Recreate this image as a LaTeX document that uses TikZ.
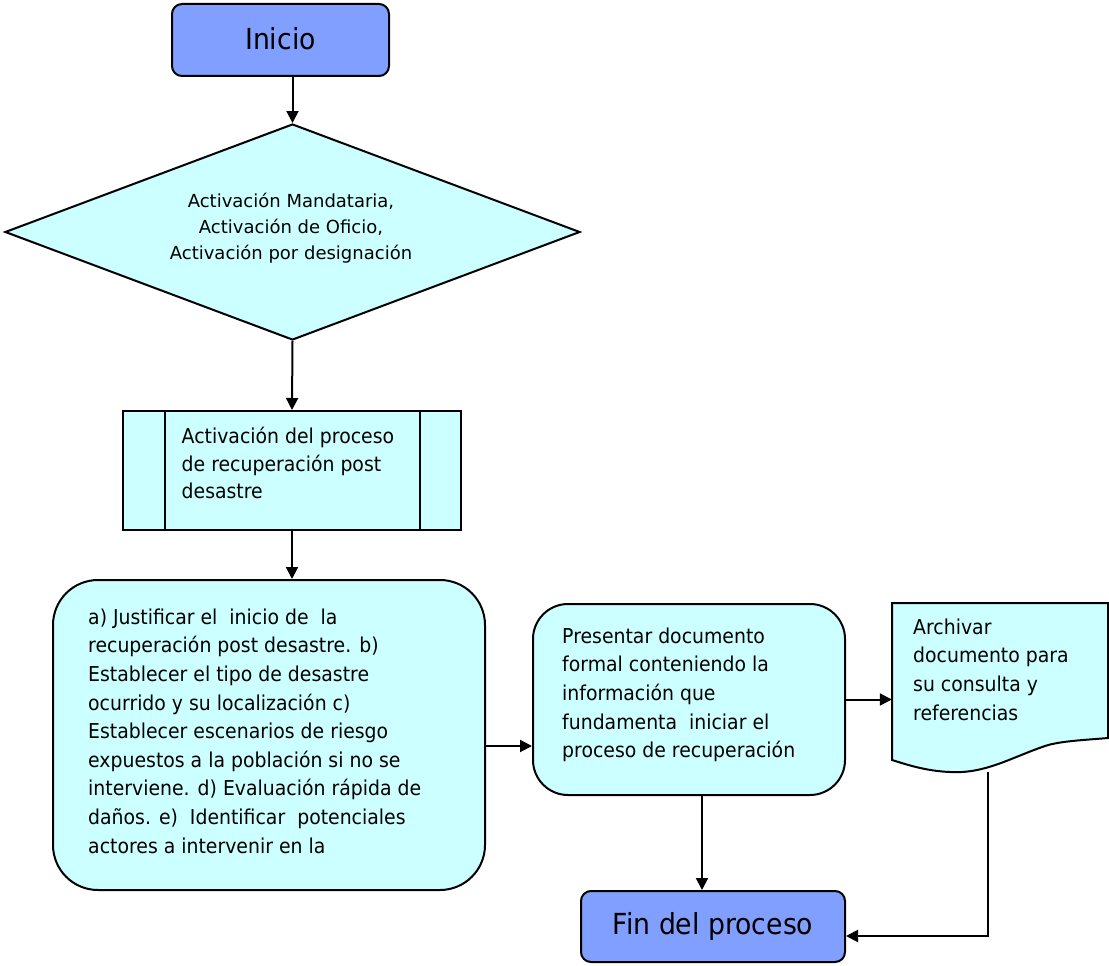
\documentclass[tikz,border=0pt]{standalone}
\usepackage{fontspec}
\setmainfont{DejaVu Sans}[FakeStretch=0.92]
\newfontfamily\diafont{DejaVu Sans}
\usetikzlibrary{arrows.meta,shapes.geometric,calc}
\definecolor{bluefill}{HTML}{809FFF}
\definecolor{cyanfill}{HTML}{CCFFFF}
\begin{document}
\begin{tikzpicture}[x=1pt,y=-1pt,
  box/.style={draw,line width=2pt,fill=cyanfill,inner sep=0pt},
  term/.style={draw,line width=2pt,fill=bluefill,rounded corners=10pt,inner sep=0pt,font=\fontsize{29}{34}\selectfont},
  txt/.style={inner sep=0pt,align=left,anchor=north west,font=\fontsize{20.5}{28.6}\selectfont},
  arr/.style={line width=2pt,-{Triangle[length=12pt,width=12pt]}},
  ln/.style={line width=2pt}]
\useasboundingbox (0,0) rectangle (1109,966);
% Inicio
\node[term,minimum width=217pt,minimum height=72pt] (ini) at (280.5,40) {\raisebox{4pt}{Inicio}};
% diamond
\node[box,diamond,aspect=2.66,minimum width=575pt,minimum height=216pt] (dia) at (292.5,232) {};
\node[inner sep=0pt,align=center,font=\diafont\fontsize{18}{26}\selectfont] (diat) at (291,228) {Activación Mandataria,\\Activación de Oficio,\\Activación por designación};
% predefined process
\node[box,minimum width=338pt,minimum height=119pt] (proc) at (292,470.5) {};
\draw[ln] ([xshift=43pt]proc.north west) -- ([xshift=43pt]proc.south west);
\draw[ln] ([xshift=-42pt]proc.north east) -- ([xshift=-42pt]proc.south east);
\node[txt,font=\fontsize{20.5}{27.9}\selectfont] (proct) at (181.5,426.5) {Activación del proceso\\de recuperación post\\desastre};
% big box
\node[box,rounded corners=45pt,minimum width=432pt,minimum height=310pt] (big) at (269,735) {};
\node[txt] (bigt) at (88,608.5) {a) Justificar el\ \ inicio de\ \ la\\recuperación post desastre. b)\\Establecer el tipo de desastre\\ocurrido y su localización c)\\Establecer escenarios de riesgo\\expuestos a la población si no se\\interviene. d) Evaluación rápida de\\daños. e)\ \ Identificar\ \ potenciales\\actores a intervenir en la};
% presentar
\node[box,rounded corners=35pt,minimum width=312pt,minimum height=191pt] (pres) at (689,699.5) {};
\node[txt] (prest) at (562,627.5) {Presentar documento\\formal conteniendo la\\información que\\fundamenta\ \ iniciar el\\proceso de recuperación};
% document
\node[inner sep=0pt,minimum width=216pt,minimum height=169pt] (doc) at (1000,687.5) {};
\draw[box] (892,603) -- (1108,603) -- (1108,738) .. controls (1085,740) and (1060,741) .. (1045,746)
  .. controls (1010,758) and (985,774) .. (950,772) .. controls (925,771) and (905,764) .. (892,760) -- cycle;
\node[txt] (doct) at (913,618.5) {Archivar\\documento para\\su consulta y\\referencias};
% fin
\node[term,minimum width=264pt,minimum height=71pt] (fin) at (713,926.5) {\raisebox{2pt}{Fin del proceso}};
% connectors
\draw[arr] (ini.south -| dia.north) -- (dia.north);
\draw[arr] (dia.south) -- (proc.north);
\draw[arr] (proc.south) -- (big.north -| proc.south);
\coordinate (b1) at ([yshift=-11pt]big.east);
\draw[arr] (b1) -- (b1 -| pres.west);
\draw[arr] (pres.east) -- (pres.east -| doc.west);
\coordinate (p1) at ([xshift=13pt]pres.south);
\draw[arr] (p1) -- (p1 |- fin.north);
\coordinate (d1) at (988,772);
\coordinate (f1) at ([yshift=-9.5pt]fin.east);
\draw[arr] (d1) -- (d1 |- f1) -- (f1);
\end{tikzpicture}
\end{document}
